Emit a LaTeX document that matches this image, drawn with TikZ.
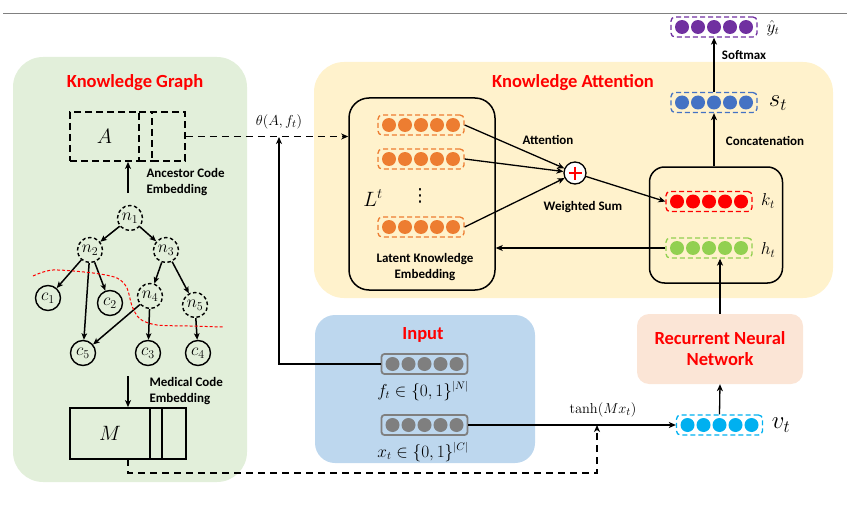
\documentclass[tikz,border=0pt]{standalone}
\usepackage[no-math]{fontspec}
\setmainfont{Carlito}
\newfontfamily\dejavu{DejaVu Sans}
\usetikzlibrary{arrows.meta,calc,shapes.geometric}
\definecolor{kgbg}{HTML}{E2EFDA}
\definecolor{kabg}{HTML}{FFF2CC}
\definecolor{inbg}{HTML}{BDD7EE}
\definecolor{rnnbg}{HTML}{FBE5D6}
\definecolor{vorange}{HTML}{ED7D31}
\definecolor{vred}{HTML}{FF0000}
\definecolor{vgreen}{HTML}{92D050}
\definecolor{vblue}{HTML}{4472C4}
\definecolor{vpurple}{HTML}{7030A0}
\definecolor{vcyan}{HTML}{00B0F0}
\definecolor{vgray}{HTML}{7F7F7F}
\tikzset{
  arr/.style={-{Stealth[length=7pt,width=6pt,inset=2pt]}, line width=1.3pt},
  dasharr/.style={-{Stealth[length=7pt,width=6pt,inset=2pt]}, line width=1.5pt, dash pattern=on 7pt off 5pt},
  bgbox/.style={rectangle, draw=none, inner sep=0pt},
  titletxt/.style={text=red, font=\fontsize{18.5}{21}\selectfont\bfseries, align=center},
  lbltxt/.style={font=\fontsize{13}{15.5}\selectfont\bfseries, align=left},
  vecbox/.style={rectangle, rounded corners=4pt, minimum width=86pt, minimum height=20pt, inner sep=0pt, line width=1.3pt, dash pattern=on 5pt off 3pt},
  graybox/.style={rectangle, rounded corners=3pt, minimum width=86pt, minimum height=20pt, inner sep=0pt, line width=1.8pt, draw=vgray},
  tn/.style={circle, minimum size=25pt, inner sep=0pt, draw, line width=1.4pt, font=\fontsize{18}{18}\selectfont},
  tnd/.style={tn, dash pattern=on 3.5pt off 2.5pt},
  dashln/.style={line width=1.8pt, dash pattern=on 7pt off 4pt},
  dbox/.style={rectangle, draw, dashln, inner sep=0pt},
  sbox/.style={rectangle, draw, line width=1.8pt, inner sep=0pt},
  tarr/.style={-{Stealth[length=6.5pt,width=5.5pt,inset=1.5pt]}, line width=1.5pt},
}
\newcommand\dotrow[4]{%
  \node[#4] (#1) at #2 {};
  \foreach \k in {-2,...,2} \fill[#3] ($(#1.center)+(\k*16,0)$) circle (7pt);
}
\begin{document}
\begin{tikzpicture}[x=1pt,y=-1pt]
\useasboundingbox (0,0) rectangle (847,511);
% top rule
\draw[gray, line width=1pt] (3,14) -- (847,14);

% backgrounds
\node[bgbox, fill=kgbg, rounded corners=30pt, minimum width=234pt, minimum height=425pt] (kg) at (130,269.5) {};
\node[bgbox, fill=kabg, rounded corners=30pt, minimum width=519pt, minimum height=236pt] (ka) at (573.5,180) {};
\node[bgbox, fill=inbg, rounded corners=20pt, minimum width=220pt, minimum height=148pt] (inp) at (425,389) {};
\node[bgbox, fill=rnnbg, rounded corners=12pt, minimum width=166pt, minimum height=70pt] (rnn) at (720,349) {};

% titles
\node[titletxt] (kgt) at (135,83) {Knowledge Graph};
\node[titletxt] (kat) at (573,83) {Knowledge Attention};
\node[titletxt] (inpt) at (423,335) {Input};
\node[titletxt] (rnnt) at (720,349) {Recurrent Neural\\Network};

% ---- Knowledge graph
\node[dbox, minimum width=69pt, minimum height=49pt] (A) at (104.5,136.5) {\fontsize{22}{22}\selectfont$A$};
\node[rectangle, draw=none, inner sep=0pt, minimum width=13pt, minimum height=49pt] (A2) at (145.5,136.5) {};
\node[dbox, minimum width=33pt, minimum height=49pt] (A3) at (168.5,136.5) {};
\draw[dashln] (A2.north west) -- (A2.north east);
\draw[dashln] (A2.south west) -- (A2.south east);
\coordinate (ancS) at (128,193);
\draw[arr] (ancS) -- (ancS |- A.south);
\node[lbltxt, anchor=west] (anclbl) at (143,182) {Ancestor Code\\Embedding};

\node[tnd] (n1) at (130,218) {$n_1$};
\node[tnd] (n2) at (90,250) {$n_2$};
\node[tnd] (n3) at (166,250) {$n_3$};
\node[tn]  (c1) at (48,298) {$c_1$};
\node[tn]  (c2) at (110,303) {$c_2$};
\node[tnd] (n4) at (150,296) {$n_4$};
\node[tnd] (n5) at (195,305) {$n_5$};
\node[tn]  (c5) at (83,353) {$c_5$};
\node[tn]  (c3) at (148,353) {$c_3$};
\node[tn]  (c4) at (198,353) {$c_4$};
\draw[tarr] (n1) -- (n2);
\draw[tarr] (n1) -- (n3);
\draw[tarr] (n2) -- (c1);
\draw[tarr] (n2) -- (c2);
\draw[tarr] (n2) -- (c5);
\draw[tarr] (n3) -- (n4);
\draw[tarr] (n3) -- (n5);
\draw[tarr] (n4) -- (c5);
\draw[tarr] (n4) -- (c3);
\draw[tarr] (n5) -- (c4);
\draw[red, line width=1pt, dash pattern=on 3pt off 2pt] plot[smooth] coordinates {(33,276) (53,270) (93,273) (117,278) (127,288) (132,306) (140,319) (157,325) (190,326) (223,327)};

\coordinate (medS) at (128,376);
\node[sbox, minimum width=80pt, minimum height=51pt] (M) at (110,433.5) {\fontsize{22}{22}\selectfont$M$};
\node[sbox, minimum width=12pt, minimum height=51pt] (M2) at (156,433.5) {};
\node[sbox, minimum width=24pt, minimum height=51pt] (M3) at (174,433.5) {};
\draw[arr] (medS) -- (medS |- M.north);
\node[lbltxt, anchor=west] (medlbl) at (146,391) {Medical Code\\Embedding};

% ---- Knowledge attention
\node[rectangle, draw, line width=1.5pt, rounded corners=20pt, minimum width=146pt, minimum height=192pt] (lat) at (422,194) {};
\dotrow{o1}{(421,125)}{vorange}{vecbox, draw=vorange}
\dotrow{o2}{(421,159)}{vorange}{vecbox, draw=vorange}
\dotrow{o3}{(421,227)}{vorange}{vecbox, draw=vorange}
\node (Lt) at (373,198) {\fontsize{22}{22}\selectfont$L^t$};
\node (vd) at (420,196) {\dejavu\fontsize{18}{18}\selectfont ⋮};
\node[lbltxt, align=center] (latlbl) at (425,267) {Latent Knowledge\\Embedding};

\node[circle, draw, line width=1.3pt, fill=white, minimum size=22pt, inner sep=0pt] (plus) at (575,173) {};
\draw[red, line width=2pt] ($(plus)+(-6.5,0)$) -- ($(plus)+(6.5,0)$);
\draw[red, line width=2pt] ($(plus)+(0,-6.5)$) -- ($(plus)+(0,6.5)$);
\node[lbltxt] (attl) at (548,140) {Attention};
\node[lbltxt] (wsl) at (583,207) {Weighted Sum};
\draw[arr] (o1.east) -- (plus);
\draw[arr] (o2.east) -- (plus);
\draw[arr] (o3.east) -- (plus);

\node[rectangle, draw, line width=1.5pt, rounded corners=15pt, minimum width=133pt, minimum height=116pt] (rb) at (716,225) {};
\dotrow{kt}{(709,201.5)}{vred}{vecbox, draw=vred}
\dotrow{ht}{(709,248)}{vgreen}{vecbox, draw=vgreen}
\node (ktl) at (768,201) {\fontsize{18}{18}\selectfont$k_t$};
\node (htl) at (768,250) {\fontsize{18}{18}\selectfont$h_t$};
\draw[arr] (plus) -- (kt.west);
\draw[arr] (ht.west) -- (ht.west -| lat.east);

\dotrow{st}{(714,102.5)}{vblue}{vecbox, draw=vblue}
\dotrow{yh}{(714,27)}{vpurple}{vecbox, draw=vpurple}
\node (stl) at (778,103) {\fontsize{24}{24}\selectfont$s_t$};
\node (yhl) at (773,28) {\fontsize{16}{16}\selectfont$\hat{y}_t$};
\draw[arr] (rb.north -| st.south) -- (st.south);
\draw[arr] (st.north) -- (yh.south);
\node[lbltxt] (sml) at (744,55) {Softmax};
\node[lbltxt] (ccl) at (765,141) {Concatenation};

% ---- Input
\dotrow{ft}{(424.5,364)}{vgray}{graybox}
\dotrow{xt}{(424.5,425)}{vgray}{graybox}
\node (ftl) at (423,391) {\fontsize{16}{16}\selectfont$f_t \in \{0,1\}^{|N|}$};
\node (xtl) at (423,452) {\fontsize{16}{16}\selectfont$x_t \in \{0,1\}^{|C|}$};

% ---- RNN / v_t
\dotrow{vt}{(719.5,425)}{vcyan}{vecbox, draw=vcyan}
\node (vtl) at (781,425) {\fontsize{24}{24}\selectfont$v_t$};
\draw[arr] (vt.north) -- (rnn.south);
\draw[arr] (rnn.north) -- (rnn.north |- ht.south);
\draw[arr] (xt.east) -- (vt.west);
\node (tanhl) at (603,410) {\fontsize{15}{15}\selectfont$\tanh(Mx_t)$};

% ---- connectors across
\coordinate (theta) at (279,137);
\node (thetal) at (279,122) {\fontsize{15}{15}\selectfont$\theta(A, f_t)$};
\draw[arr] (ft.west) -| (theta);
\draw[dasharr] (A3.east) -- (A3.east -| lat.west);
\coordinate (Mout) at (128,459);
\coordinate (mix) at (597,425);
\draw[dasharr] (Mout) -- (128,473) -| (mix);
\end{tikzpicture}
\end{document}
